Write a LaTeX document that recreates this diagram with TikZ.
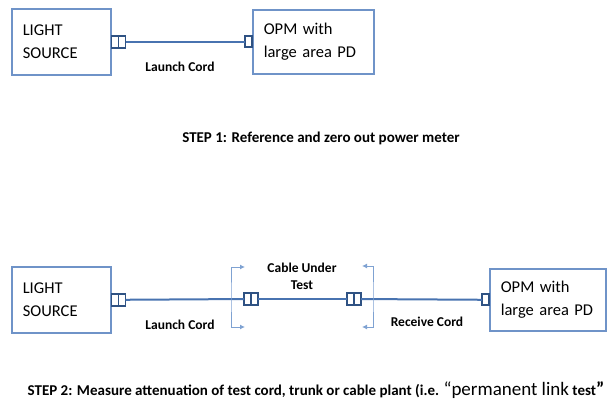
\documentclass[tikz,border=0pt]{standalone}
\usepackage{fontspec}
\setmainfont{Carlito}
\usetikzlibrary{positioning,arrows.meta}

\definecolor{boxblue}{HTML}{6F93C8}
\definecolor{cordblue}{HTML}{4873B0}
\definecolor{plugblue}{HTML}{2F5283}
\definecolor{markblue}{HTML}{7FA2D2}

\begin{document}
\begin{tikzpicture}[x=1pt, y=-1pt,
    devbox/.style={draw=boxblue, line width=1.6pt, inner xsep=11pt, inner ysep=0pt,
      align=left, anchor=north west, font=\fontsize{16.5}{23}\selectfont},
    plug/.style={draw=plugblue, fill=white, line width=1.7pt, minimum width=7pt,
      minimum height=12pt, inner sep=0pt, outer sep=0pt},
    cord/.style={draw=cordblue, line width=2pt},
    cutmark/.style={draw=markblue, line width=1pt,
      {Latex[length=5pt,width=5pt]}-{Latex[length=5pt,width=5pt]}},
    lbl/.style={font=\bfseries\fontsize{13.5}{17}\selectfont, align=center},
    steptext/.style={font=\bfseries\fontsize{15}{16}\selectfont}]
  \useasboundingbox (0,0) rectangle (608,409);

  % step 1
  \node[devbox, text width=77pt, minimum height=66pt] (src1) at (11,8) {LIGHT\\SOURCE};
  \node[plug, anchor=west] (src1a) at (src1.east) {};
  \node[plug, right=0pt of src1a] (src1b) {};
  \node[devbox, text width=99pt, minimum height=64pt] (opm1) at (252,9) {OPM with\\large area PD};
  \node[plug, anchor=east, minimum height=11pt] (opm1a) at (opm1.west) {};
  \draw[cord] (src1b) -- (opm1a);
  \node[lbl] (launch1) at (180,67) {Launch Cord};
  \node[steptext] (step1) at (321,138) {STEP 1: Reference and zero out power meter};

  % step 2
  \node[devbox, text width=77pt, minimum height=66pt] (src2) at (11,266) {LIGHT\\SOURCE};
  \node[plug, anchor=west] (src2a) at (src2.east) {};
  \node[plug, right=0pt of src2a] (src2b) {};
  \node[plug] (cuta1) at (247.5,299) {};
  \node[plug, right=0pt of cuta1] (cuta2) {};
  \node[plug] (cutb1) at (350.5,299) {};
  \node[plug, right=0pt of cutb1] (cutb2) {};
  \node[devbox, text width=94pt, minimum height=62pt] (opm2) at (489,268) {OPM with\\large area PD};
  \node[plug, anchor=east, minimum height=11pt] (opm2a) at (opm2.west) {};
  \draw[cord] (src2b) -- (cuta1);
  \draw[cord] (cuta2) -- (cutb1);
  \draw[cord] (cutb2) -- (opm2a);

  \coordinate (ltop) at (245,267);
  \coordinate (lspine) at (231,297);
  \coordinate (lbot) at (245,327);
  \coordinate (rtop) at (362,266);
  \coordinate (rspine) at (373,297);
  \coordinate (rbot) at (362,327);
  \draw[cutmark] (ltop) -| (lspine) |- (lbot);
  \draw[cutmark] (rtop) -| (rspine) |- (rbot);

  \node[lbl] (cable) at (302,276) {Cable Under\\Test};
  \node[lbl] (launch2) at (180,325) {Launch Cord};
  \node[lbl] (receive) at (427,322) {Receive Cord};
  \node[steptext] (step2) at (316,390) {STEP 2: Measure attenuation of test cord, trunk or cable plant (i.e. {\mdseries\fontsize{19}{19}\selectfont “permanent link} test{\fontsize{19}{19}\selectfont ”}};
\end{tikzpicture}
\end{document}
